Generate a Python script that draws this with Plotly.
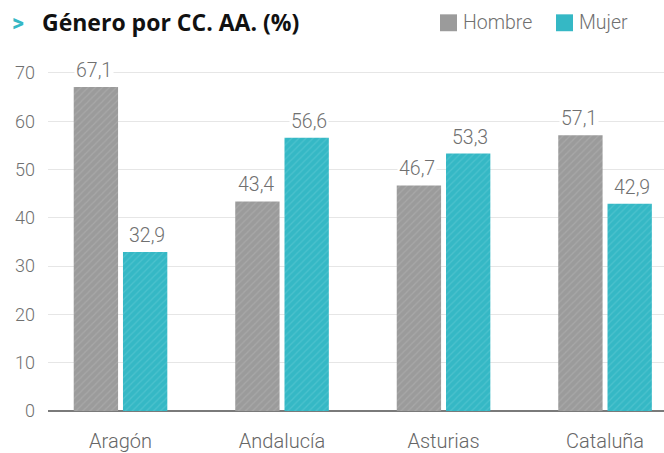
import plotly.graph_objects as go

categories = ["Aragón", "Andalucía", "Asturias", "Cataluña"]
hombre = [67.1, 43.4, 46.7, 57.1]
mujer = [32.9, 56.6, 53.3, 42.9]
series_names = ["Hombre", "Mujer"]
y_ticks = [0, 10, 20, 30, 40, 50, 60, 70]

GREY = "#9b9b9b"
TEAL = "#35b8c5"
FONT = "Roboto"

W, H = 664, 453
ML, MR, MT, MB = 48, 0, 71, 40
PW, PH = W - ML - MR, H - MT - MB

def px(x):
    return (x - ML) / PW

def py(y):
    return (H - MB - y) / PH

fig = go.Figure()
colors = [GREY, TEAL]
fgs = ["#b0b0b0", "#5cc8d2"]
for name, vals, col, fg in zip(series_names, [hombre, mujer], colors, fgs):
    fig.add_trace(go.Bar(
        x=categories, y=vals, name=name,
        marker=dict(color=col, line=dict(width=0),
                    pattern=dict(shape="/", fgcolor=fg, size=5, solidity=0.25, fgopacity=0.6)),
        hoverinfo="skip", showlegend=False,
    ))

def fmt(v):
    return f"{v:.1f}".replace(".", ",")

for vals, shift in [(hombre, -26.5), (mujer, 26.5)]:
    for c, v in zip(categories, vals):
        fig.add_annotation(x=c, y=v, xref="x", yref="y", text=fmt(v), showarrow=False,
                           xshift=shift, yanchor="bottom", yshift=3,
                           bgcolor="white", borderpad=1,
                           font=dict(family=FONT, size=19.5, color="#707070", weight=300))

# custom legend
leg_x = [440, 556]
for name, col, lx in zip(series_names, colors, leg_x):
    fig.add_shape(type="rect", xref="paper", yref="paper",
                  x0=px(lx), x1=px(lx + 17), y0=py(31), y1=py(14),
                  fillcolor=col, line=dict(width=0))
    fig.add_annotation(xref="paper", yref="paper", x=px(lx + 21), y=py(22.5),
                       xanchor="left", yanchor="middle", text=name, showarrow=False,
                       font=dict(family=FONT, size=19.5, color="#707070", weight=300))

# title
fig.add_annotation(xref="paper", yref="paper", x=px(10), y=py(23), xanchor="left", yanchor="middle",
                   text="<b>></b>", showarrow=False,
                   font=dict(family=FONT, size=23, color=TEAL))
fig.add_annotation(xref="paper", yref="paper", x=px(40), y=py(22), xanchor="left", yanchor="middle",
                   text="<b>Género por CC. AA. (%)</b>", showarrow=False,
                   font=dict(family="Open Sans", size=23, color="#111111"))

fig.update_layout(
    width=W, height=H,
    margin=dict(l=ML, r=MR, t=MT, b=MB),
    paper_bgcolor="white", plot_bgcolor="white",
    barmode="group", bargap=0.39, bargroupgap=0.1,
    showlegend=False,
    font=dict(family=FONT, color="#707070"),
)
fig.update_xaxes(range=[-0.449, 3.365], showgrid=False, ticks="", showline=False,
                 ticklabelstandoff=16,
                 tickfont=dict(family=FONT, size=20, color="#666666", weight=300))
fig.update_yaxes(range=[0, 70.4], tickvals=y_ticks, showgrid=True, gridcolor="#e6e6e6", gridwidth=1,
                 zeroline=True, zerolinecolor="#7a7a7a", zerolinewidth=2, ticks="",
                 ticklabelstandoff=12,
                 tickfont=dict(family=FONT, size=18, color="#707070", weight=300))

fig.write_html("out.html", config={"displayModeBar": False},
               post_script="document.body.style.margin='0';")
